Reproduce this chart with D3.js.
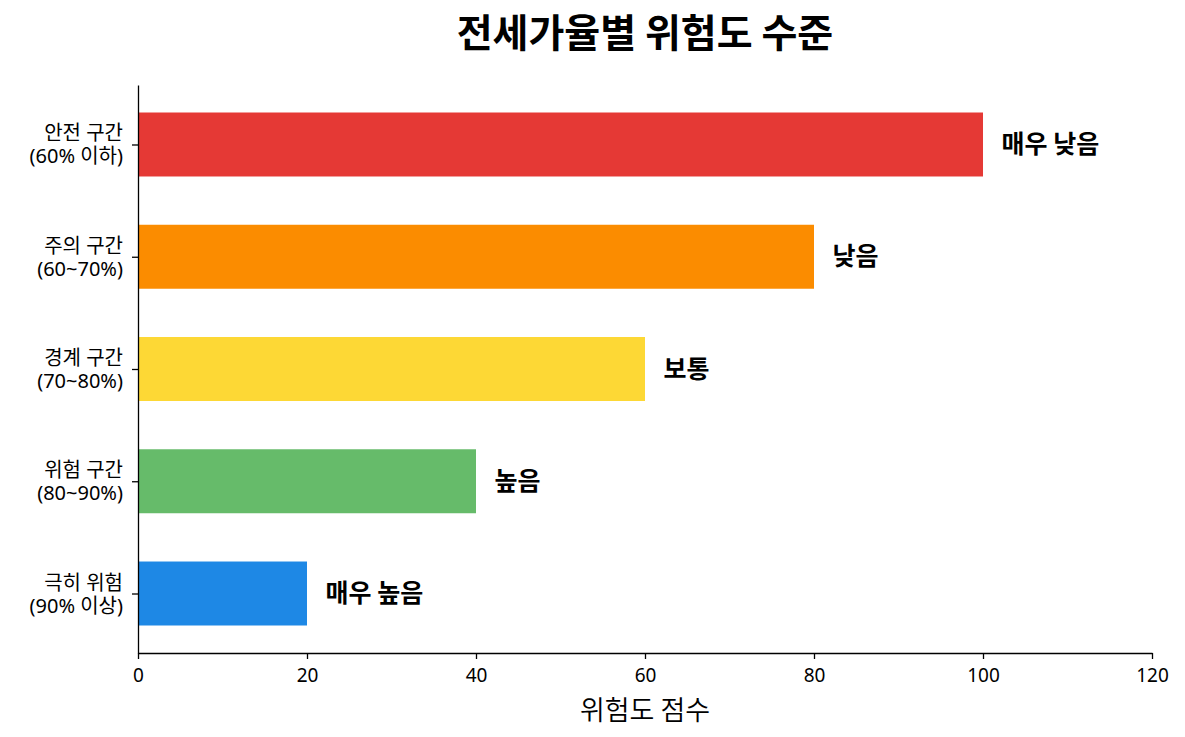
<!DOCTYPE html>
<html>
<head>
<meta charset="utf-8">
<script src="https://cdn.jsdelivr.net/npm/d3@7"></script>
<style>
  body { margin: 0; background: #fff; }
  text { font-family: "Noto Sans CJK KR", "Noto Sans", sans-serif; }
  text.latin { font-family: "Noto Sans", "Noto Sans CJK KR", sans-serif; }
</style>
</head>
<body>
<div class="chart"></div>
<script>
'use strict';

var categories = ['안전 구간\n(60% 이하)', '주의 구간\n(60~70%)', '경계 구간\n(70~80%)', '위험 구간\n(80~90%)', '극히 위험\n(90% 이상)'];
var scores = [100, 80, 60, 40, 20];
var levels = ['매우 낮음', '낮음', '보통', '높음', '매우 높음'];
var colors = ['#e53935', '#fb8c00', '#fdd835', '#66bb6a', '#1e88e5'];
var xTicks = [0, 20, 40, 60, 80, 100, 120];

var WIDTH = 1185, HEIGHT = 737;
var margin = { left: 138, right: 33, top: 85, bottom: 84 };

var svg = d3.select('.chart').append('svg')
  .attr('width', WIDTH)
  .attr('height', HEIGHT);

var x = d3.scaleLinear()
  .domain([0, 120])
  .range([margin.left, WIDTH - margin.right]);

// bars around integer positions, 5% margin like matplotlib
var y = d3.scaleLinear()
  .domain([-0.53, 4.53])
  .range([margin.top, HEIGHT - margin.bottom]);

var barH = y(0.285) - y(-0.285);

// Bars
svg.selectAll('rect.bar')
  .data(scores)
  .enter()
  .append('rect')
  .attr('x', x(0))
  .attr('y', function(d, i) { return y(i) - barH / 2; })
  .attr('width', function(d) { return x(d) - x(0); })
  .attr('height', barH)
  .style('fill', function(d, i) { return colors[i]; })
  .classed('bar', true);

// Value labels
svg.selectAll('text.level')
  .data(scores)
  .enter()
  .append('text')
  .text(function(d, i) { return levels[i]; })
  .attr('x', function(d) { return x(d + 2.2); })
  .attr('y', function(d, i) { return y(i); })
  .attr('dy', '0.35em')
  .style('font-size', '25px')
  .style('font-weight', 'bold')
  .classed('level', true);

// X axis
var xAxis = svg.append('g')
  .attr('transform', 'translate(0,' + (HEIGHT - margin.bottom) + ')')
  .call(d3.axisBottom(x).tickValues(xTicks).tickSize(6).tickPadding(10).tickSizeOuter(0));

// Y axis
var yAxis = svg.append('g')
  .attr('transform', 'translate(' + margin.left + ',0)')
  .call(d3.axisLeft(y).tickValues(d3.range(categories.length)).tickSize(6).tickFormat('').tickSizeOuter(0));

[xAxis, yAxis].forEach(function(g) {
  g.select('.domain').style('stroke', '#000').style('stroke-width', 1.3);
  g.selectAll('.tick line').style('stroke', '#000').style('stroke-width', 1.3);
});
xAxis.selectAll('.tick text')
  .attr('class', 'latin')
  .style('font-size', '19px')
  .style('font-weight', 400)
  .style('fill', '#000');

// Two-line category labels, one text per line
var catLines = [];
categories.forEach(function(c, i) {
  c.split('\n').forEach(function(line, k) {
    catLines.push({ text: line, index: i, row: k });
  });
});

svg.selectAll('text.cat')
  .data(catLines)
  .enter()
  .append('text')
  .text(function(d) { return d.text; })
  .attr('x', margin.left - 15)
  .attr('y', function(d) { return y(d.index) + (d.row === 0 ? -4 : 19); })
  .attr('text-anchor', 'end')
  .attr('class', 'cat latin')
  .style('font-size', '20px')
  .style('font-weight', 400);

// Axis title
svg.append('text')
  .text('위험도 점수')
  .attr('x', (x(0) + x(120)) / 2)
  .attr('y', 720)
  .attr('text-anchor', 'middle')
  .style('font-size', '27px')
  .style('font-weight', 350);

// Title
svg.append('text')
  .text('전세가율별 위험도 수준')
  .attr('x', (x(0) + x(120)) / 2)
  .attr('y', 47)
  .attr('text-anchor', 'middle')
  .style('font-size', '39px')
  .style('font-weight', 'bold');
</script>
</body>
</html>
